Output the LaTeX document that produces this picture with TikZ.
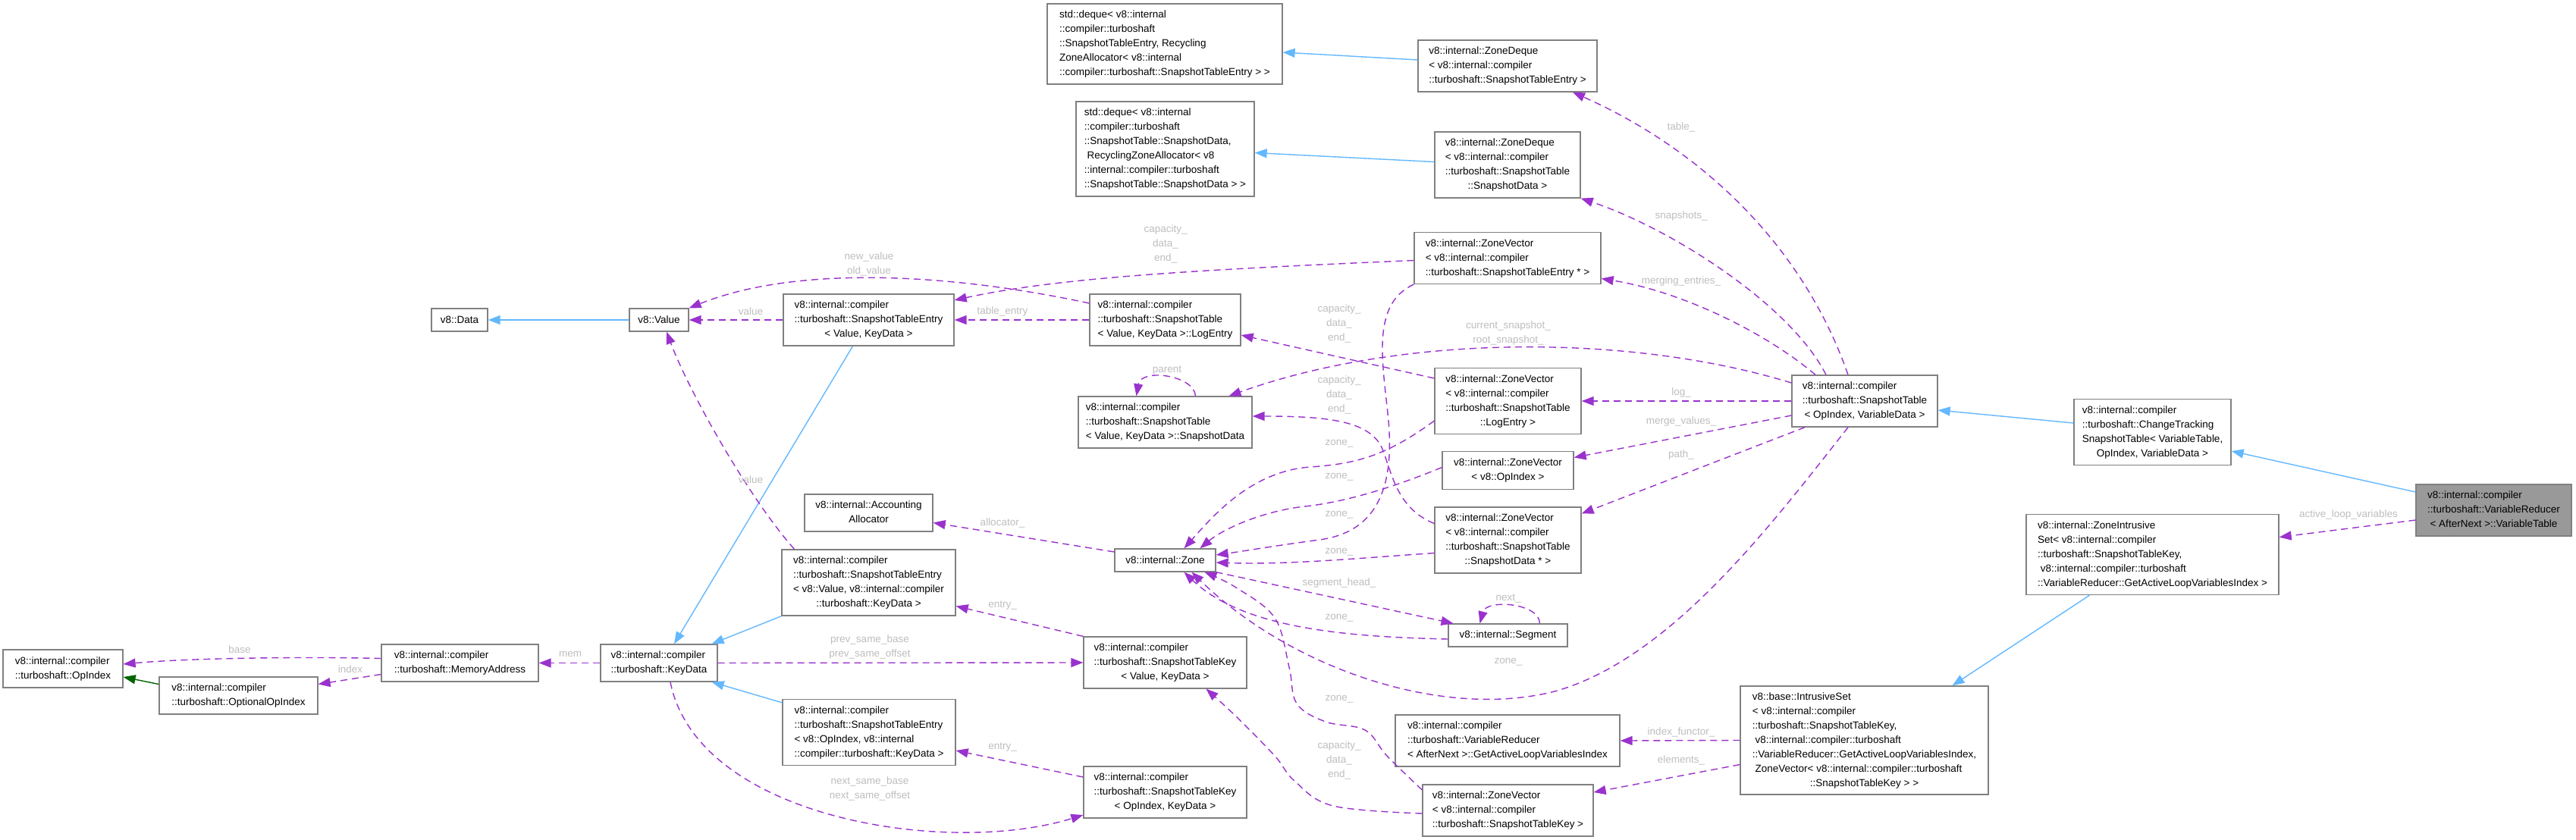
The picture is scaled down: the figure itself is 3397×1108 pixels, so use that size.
\documentclass[tikz,border=0pt]{standalone}
\usepackage{fontspec}
\setmainfont{Liberation Sans}
\usetikzlibrary{arrows.meta}
\definecolor{purp}{HTML}{9A32CD}
\definecolor{blu}{HTML}{63B8FF}
\definecolor{grn}{HTML}{006400}
\definecolor{boxgray}{HTML}{808080}
\definecolor{curgray}{HTML}{999999}
\definecolor{lblgray}{HTML}{BEBEBE}
\newcommand\tb[1]{\begin{tabular}{@{}l@{}}#1\end{tabular}}
\newcommand\mc[1]{\multicolumn{1}{@{}c@{}}{#1}}
\begin{document}
\begin{tikzpicture}[x=1pt,y=-1pt,
  box/.style={draw=boxgray, line width=1.3pt, fill=white, inner sep=0pt, font=\fontsize{13.5}{19}\selectfont},
  cur/.style={box, fill=curgray},
  lbl/.style={text=lblgray, font=\fontsize{13.5}{19}\selectfont, align=center, inner sep=0pt},
  uses/.style={draw=purp, line width=1.4pt, dash pattern=on 9pt off 6pt, -{Triangle[length=16pt,width=12pt]}},
  inh/.style={draw=blu, line width=1.4pt, -{Triangle[length=16pt,width=12pt]}},
  inhg/.style={draw=grn, line width=1.4pt, -{Triangle[length=16pt,width=12pt]}}]
\fill[white] (0,0) rectangle (3397,1108);
\useasboundingbox (0,0) rectangle (3397,1108);

% nodes
\node[box, minimum width=310pt, minimum height=106pt] (dqSTE) at (1536,58) {\tb{std::deque< v8::internal\\::compiler::turboshaft\\::SnapshotTableEntry, Recycling\\ZoneAllocator< v8::internal\\::compiler::turboshaft::SnapshotTableEntry > >}};
\node[box, minimum width=236pt, minimum height=68pt] (zdSTE) at (1988,87) {\tb{v8::internal::ZoneDeque\\< v8::internal::compiler\\::turboshaft::SnapshotTableEntry >}};
\node[box, minimum width=235pt, minimum height=125pt] (dqSD) at (1536.5,196.5) {\tb{std::deque< v8::internal\\::compiler::turboshaft\\::SnapshotTable::SnapshotData,\\\ RecyclingZoneAllocator< v8\\::internal::compiler::turboshaft\\::SnapshotTable::SnapshotData > >}};
\node[box, minimum width=192pt, minimum height=87pt] (zdSD) at (1988,217.5) {\tb{v8::internal::ZoneDeque\\< v8::internal::compiler\\::turboshaft::SnapshotTable\\\mc{::SnapshotData >}}};
\node[box, minimum width=246pt, minimum height=68pt] (zvSTEp) at (1988,340.5) {\tb{v8::internal::ZoneVector\\< v8::internal::compiler\\::turboshaft::SnapshotTableEntry * >}};
\node[box, minimum width=74pt, minimum height=30pt] (data) at (606,422) {v8::Data};
\node[box, minimum width=78pt, minimum height=30pt] (value) at (869,422) {v8::Value};
\node[box, minimum width=225pt, minimum height=68pt] (steVK) at (1145.5,422) {\tb{v8::internal::compiler\\::turboshaft::SnapshotTableEntry\\\mc{< Value, KeyData >}}};
\node[box, minimum width=199pt, minimum height=68pt] (logVK) at (1536.5,422) {\tb{v8::internal::compiler\\::turboshaft::SnapshotTable\\< Value, KeyData >::LogEntry}};
\node[box, minimum width=229pt, minimum height=68pt] (sdVK) at (1536.5,557) {\tb{v8::internal::compiler\\::turboshaft::SnapshotTable\\< Value, KeyData >::SnapshotData}};
\node[box, minimum width=193pt, minimum height=87pt] (zvLog) at (1988.5,529) {\tb{v8::internal::ZoneVector\\< v8::internal::compiler\\::turboshaft::SnapshotTable\\\mc{::LogEntry >}}};
\node[box, minimum width=192pt, minimum height=68pt] (stOV) at (2459,529) {\tb{v8::internal::compiler\\::turboshaft::SnapshotTable\\\mc{< OpIndex, VariableData >}}};
\node[box, minimum width=207pt, minimum height=87pt] (ctst) at (2838.5,570) {\tb{v8::internal::compiler\\::turboshaft::ChangeTracking\\SnapshotTable< VariableTable,\\\mc{OpIndex, VariableData >}}};
\node[cur, minimum width=205pt, minimum height=68pt] (vt) at (3288.5,673) {\tb{v8::internal::compiler\\::turboshaft::VariableReducer\\\mc{< AfterNext >::VariableTable}}};
\node[box, minimum width=173pt, minimum height=50pt] (zvOp) at (1988.5,620.5) {\tb{v8::internal::ZoneVector\\\mc{< v8::OpIndex >}}};
\node[box, minimum width=333pt, minimum height=106pt] (zis) at (2838.5,731.5) {\tb{v8::internal::ZoneIntrusive\\Set< v8::internal::compiler\\::turboshaft::SnapshotTableKey,\\\ v8::internal::compiler::turboshaft\\::VariableReducer::GetActiveLoopVariablesIndex >}};
\node[box, minimum width=169pt, minimum height=49pt] (alloc) at (1145.5,676.5) {\tb{v8::internal::Accounting\\\mc{Allocator}}};
\node[box, minimum width=133pt, minimum height=30pt] (zone) at (1536.5,739) {v8::internal::Zone};
\node[box, minimum width=193pt, minimum height=87pt] (zvSDp) at (1988.5,712.5) {\tb{v8::internal::ZoneVector\\< v8::internal::compiler\\::turboshaft::SnapshotTable\\\mc{::SnapshotData * >}}};
\node[box, minimum width=229pt, minimum height=87pt] (steV8) at (1145.5,768.5) {\tb{v8::internal::compiler\\::turboshaft::SnapshotTableEntry\\< v8::Value, v8::internal::compiler\\\mc{::turboshaft::KeyData >}}};
\node[box, minimum width=157pt, minimum height=30pt] (seg) at (1988.5,838) {v8::internal::Segment};
\node[box, minimum width=158pt, minimum height=50pt] (opidx) at (83,882) {\tb{v8::internal::compiler\\::turboshaft::OpIndex}};
\node[box, minimum width=209pt, minimum height=49pt] (optop) at (314.5,917.5) {\tb{v8::internal::compiler\\::turboshaft::OptionalOpIndex}};
\node[box, minimum width=207pt, minimum height=49pt] (memaddr) at (606.5,874.5) {\tb{v8::internal::compiler\\::turboshaft::MemoryAddress}};
\node[box, minimum width=154pt, minimum height=49pt] (keydata) at (869,874.5) {\tb{v8::internal::compiler\\::turboshaft::KeyData}};
\node[box, minimum width=215pt, minimum height=68pt] (keyV) at (1536.5,874) {\tb{v8::internal::compiler\\::turboshaft::SnapshotTableKey\\\mc{< Value, KeyData >}}};
\node[box, minimum width=228pt, minimum height=87pt] (steOp) at (1146,966) {\tb{v8::internal::compiler\\::turboshaft::SnapshotTableEntry\\< v8::OpIndex, v8::internal\\::compiler::turboshaft::KeyData >}};
\node[box, minimum width=296pt, minimum height=68pt] (galvi) at (1988,977) {\tb{v8::internal::compiler\\::turboshaft::VariableReducer\\< AfterNext >::GetActiveLoopVariablesIndex}};
\node[box, minimum width=327pt, minimum height=143pt] (iset) at (2458.5,976.5) {\tb{v8::base::IntrusiveSet\\< v8::internal::compiler\\::turboshaft::SnapshotTableKey,\\\ v8::internal::compiler::turboshaft\\::VariableReducer::GetActiveLoopVariablesIndex,\\\ ZoneVector< v8::internal::compiler::turboshaft\\\mc{::SnapshotTableKey > >}}};
\node[box, minimum width=215pt, minimum height=68pt] (keyOp) at (1536.5,1045) {\tb{v8::internal::compiler\\::turboshaft::SnapshotTableKey\\\mc{< OpIndex, KeyData >}}};
\node[box, minimum width=225pt, minimum height=68pt] (zvKey) at (1988.5,1069) {\tb{v8::internal::ZoneVector\\< v8::internal::compiler\\::turboshaft::SnapshotTableKey >}};

% edges
\draw[inh] (value.west) -- (data.east);
\draw[uses] (steVK.west) -- (value.east);
\draw[uses] ([yshift=22pt]logVK.west) .. controls (1250,360) and (1050,350) .. (value.north east);
\draw[uses] (logVK.west) -- (steVK.east);
\draw[uses] ([yshift=-3pt]zvSTEp.west) .. controls (1600,355) and (1400,365) .. ([yshift=26pt]steVK.east);
\draw[inh] ([xshift=-21pt]steVK.south) -- ([xshift=20pt]keydata.north);
\draw[uses] ([xshift=-98pt]steV8.north) .. controls (990,660) and (910,520) .. ([xshift=10pt]value.south);
\draw[inh] (steV8.south west) -- ([xshift=-8pt]keydata.north east);
\draw[inh] ([yshift=-5pt]steOp.north west) -- ([xshift=-8pt]keydata.south east);
\draw[uses] (keydata.west) -- (memaddr.east);
\draw[uses] ([yshift=6pt]memaddr.west) .. controls (400,866) and (250,868) .. ([yshift=6pt]opidx.east);
\draw[uses] ([yshift=-15pt]memaddr.west) -- ([yshift=15pt]optop.east);
\draw[inhg] ([yshift=15pt]optop.west) -- ([yshift=-11pt]opidx.east);
\draw[uses] (keydata.east) -- (keyV.west);
\draw[uses] ([xshift=15pt]keydata.south) .. controls (920,1080) and (1250,1130) .. ([yshift=-30pt]keyOp.west);
\draw[uses] (keyV.north west) -- ([yshift=-31pt]steV8.east);
\draw[uses] ([yshift=20pt]keyOp.west) -- ([yshift=-24pt]steOp.east);
\draw[uses] ([yshift=11pt]zone.west) -- ([yshift=-13pt]alloc.east);
\draw[uses] ([yshift=30pt]zvLog.west) -- ([yshift=-20pt]logVK.east);
\draw[uses] ([yshift=22pt]zvSDp.west) .. controls (1840,670) and (1835,620) .. (1822,590) .. controls (1805,555) and (1750,549) .. ([yshift=8pt]sdVK.east);
\draw[uses] ([yshift=-26pt]zvLog.west) .. controls (1830,600) and (1790,612) .. (1727,616) .. controls (1650,622) and (1600,680) .. ([xshift=25pt]zone.north);
\draw[uses] ([yshift=4pt]zvOp.west) .. controls (1820,650) and (1760,664) .. (1720,668) .. controls (1660,675) and (1610,700) .. ([xshift=46pt]zone.north);
\draw[uses] (zvSTEp.south west) .. controls (1810,400) and (1822,470) .. (1830,545) .. controls (1838,620) and (1830,700) .. (1740,712) .. controls (1680,720) and (1640,727) .. ([yshift=7pt]zone.east);
\draw[uses] ([yshift=-17pt]zvSDp.west) .. controls (1780,737) and (1700,745) .. ([yshift=-3pt]zone.east);
\draw[uses] (zone.south east) -- ([xshift=-72pt]seg.north);
\draw[uses] ([yshift=-5pt]seg.west) .. controls (1780,840) and (1640,830) .. ([xshift=25pt]zone.south);
\draw[uses] ([xshift=-22pt]stOV.south) .. controls (2330,700) and (2200,870) .. (2050,912) .. controls (1900,950) and (1700,880) .. ([xshift=35pt]zone.south);
\draw[uses] plot[smooth, tension=0.6] coordinates {([yshift=27pt]zvKey.west) (1829,997) (1800,963) (1748,952) (1710,928) (1700,880) (1681,815) (1630,775) ([xshift=52pt]zone.south)};
\draw[uses] plot[smooth, tension=0.6] coordinates {([yshift=-4pt]zvKey.west) (1758,1063) (1707,1030) (1681,997) (1630,945) ([xshift=54pt]keyV.south)};
\draw[uses] ([xshift=-22pt]stOV.north) .. controls (2380,330) and (2250,200) .. ([xshift=86pt]zdSTE.south);
\draw[uses] ([xshift=-51pt]stOV.north) .. controls (2360,400) and (2200,300) .. (zdSD.south east);
\draw[uses] ([xshift=-65pt]stOV.north) .. controls (2330,440) and (2220,385) .. ([yshift=-27pt]zvSTEp.east);
\draw[uses] ([yshift=24pt]stOV.west) .. controls (2150,440) and (1850,440) .. ([xshift=84pt]sdVK.north);
\draw[uses] (stOV.west) -- (zvLog.east);
\draw[uses] ([yshift=-19pt]stOV.west) -- ([yshift=17pt]zvOp.east);
\draw[uses] ([xshift=-79pt]stOV.south) -- ([yshift=35pt]zvSDp.east);
\draw[inh] ([yshift=12pt]ctst.west) -- ([yshift=-12pt]stOV.east);
\draw[inh] ([yshift=24pt]vt.west) -- ([yshift=-25pt]ctst.east);
\draw[uses] ([yshift=-13pt]vt.west) -- ([yshift=23pt]zis.east);
\draw[inh] ([xshift=-83pt]zis.south) -- ([xshift=116pt]iset.north);
\draw[uses] (iset.west) -- (galvi.east);
\draw[uses] ([yshift=-32pt]iset.west) -- ([yshift=24pt]zvKey.east);
\draw[inh] ([yshift=8pt]zdSTE.west) -- ([yshift=-11pt]dqSTE.east);
\draw[inh] ([yshift=4pt]zdSD.west) -- ([yshift=-5pt]dqSD.east);
\draw[uses] ([xshift=40pt]sdVK.north) .. controls (1575,495) and (1505,485) .. ([xshift=-38pt]sdVK.north);
\draw[uses] ([xshift=42pt]seg.north) .. controls (2030,795) and (1960,790) .. ([xshift=-37pt]seg.north);

% labels
\node[lbl] (l1) at (990,411) {value};
\node[lbl] (l2) at (1146,348.5) {new\_value\\old\_value};
\node[lbl] (l3) at (1322,411) {table\_entry};
\node[lbl] (l4) at (1537,321.5) {capacity\_\\data\_\\end\_};
\node[lbl] (l5) at (1539,489) {parent};
\node[lbl] (l6) at (990,633) {value};
\node[lbl] (l7) at (1322,690) {allocator\_};
\node[lbl] (l8) at (752,863) {mem};
\node[lbl] (l9) at (316,857) {base};
\node[lbl] (l10) at (462,883) {index};
\node[lbl] (l11) at (1147,854) {prev\_same\_base\\prev\_same\_offset};
\node[lbl] (l12) at (1147,1040) {next\_same\_base\\next\_same\_offset};
\node[lbl] (l13) at (1322,799) {entry\_};
\node[lbl] (l14) at (1322,986) {entry\_};
\node[lbl] (l15) at (1766,427) {capacity\_\\data\_\\end\_};
\node[lbl] (l16) at (1989,439.5) {current\_snapshot\_\\root\_snapshot\_};
\node[lbl] (l17) at (1766,520.5) {capacity\_\\data\_\\end\_};
\node[lbl] (l18) at (1766,585) {zone\_};
\node[lbl] (l19) at (1766,629) {zone\_};
\node[lbl] (l20) at (1766,679) {zone\_};
\node[lbl] (l21) at (1766,728) {zone\_};
\node[lbl] (l22) at (1766,769) {segment\_head\_};
\node[lbl] (l23) at (1989,789) {next\_};
\node[lbl] (l24) at (1766,815) {zone\_};
\node[lbl] (l25) at (1989,873) {zone\_};
\node[lbl] (l26) at (1766,922) {zone\_};
\node[lbl] (l27) at (1766,1003) {capacity\_\\data\_\\end\_};
\node[lbl] (l28) at (2217,168) {table\_};
\node[lbl] (l29) at (2217,285) {snapshots\_};
\node[lbl] (l30) at (2217,371) {merging\_entries\_};
\node[lbl] (l31) at (2217,518) {log\_};
\node[lbl] (l32) at (2217,556) {merge\_values\_};
\node[lbl] (l33) at (2217,600) {path\_};
\node[lbl] (l34) at (2217,966) {index\_functor\_};
\node[lbl] (l35) at (2217,1003) {elements\_};
\node[lbl] (l36) at (3097,679) {active\_loop\_variables};
\end{tikzpicture}
\end{document}
